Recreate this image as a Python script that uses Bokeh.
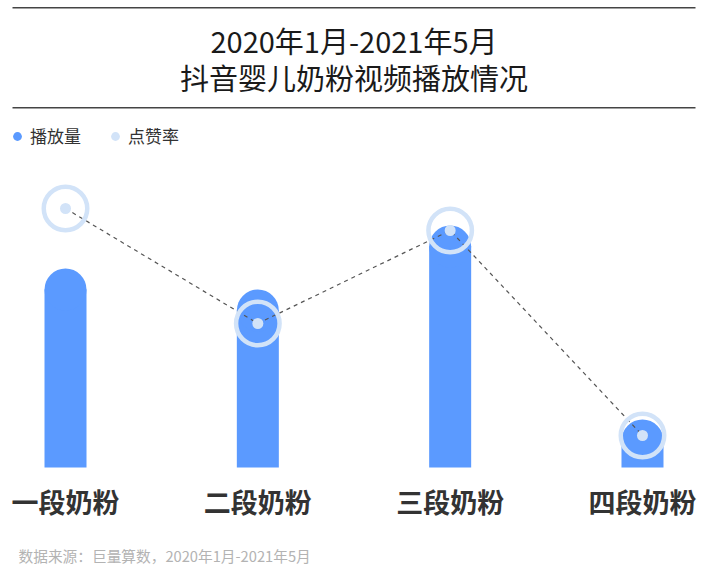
from bokeh.plotting import figure
from bokeh.models import Range1d, Label, BoxAnnotation, Legend, LegendItem, ColumnDataSource
from bokeh.embed import file_html
from bokeh.resources import INLINE
from bokeh.core.properties import value

categories = ["一段奶粉", "二段奶粉", "三段奶粉", "四段奶粉"]
plays = [19.9, 17.8, 24.2, 4.8]          # 播放量 (relative)
like_rate = [2.59, 1.44, 2.37, 0.32]     # 点赞率 (relative)
title_lines = ["2020年1月-2021年5月", "抖音婴儿奶粉视频播放情况"]
source_note = "数据来源：巨量算数，2020年1月-2021年5月"
legend_labels = ["播放量", "点赞率"]

BLUE = "#5B9AFF"
LIGHT = "#D2E3F8"
FONT = "Noto Sans CJK SC"

W, H = 707, 570
p = figure(width=W, height=H, output_backend="svg", toolbar_location=None,
           x_range=Range1d(-0.338, 3.338), y_range=Range1d(-10.3, 46.7),
           min_border=0, outline_line_color=None)
p.extra_y_ranges = {"rate": Range1d(-1.03, 4.67)}
p.xaxis.visible = False
p.yaxis.visible = False
p.xgrid.visible = False
p.ygrid.visible = False

xs = list(range(len(categories)))
cap_r = 2.1  # 21 px in data units
src = ColumnDataSource(dict(x=xs, plays=plays, body=[v - cap_r for v in plays],
                            rate=like_rate, cat=categories))

p.vbar(x="x", top="body", bottom=0, width=0.2184, source=src, fill_color=BLUE, line_color=None)
caps = p.scatter(x="x", y="body", size=42, marker="circle", source=src, fill_color=BLUE, line_color=None)

p.line(x="x", y="rate", source=src, y_range_name="rate", line_color="#555555",
       line_width=1.2, line_dash="4 4")
p.scatter(x="x", y="rate", source=src, y_range_name="rate", size=43.5, marker="circle",
          fill_color=None, line_color=LIGHT, line_width=4.5)
dots = p.scatter(x="x", y="rate", source=src, y_range_name="rate", size=11, marker="circle",
                 fill_color=LIGHT, line_color=None)

p.text(x="x", y=0, text="cat", source=src, y_offset=34, text_align="center",
       text_baseline="middle", text_font=value(FONT), text_font_size="27px",
       text_font_style="bold", text_color="#333333")

# title
p.add_layout(Label(x=W / 2, y=531, x_units="screen", y_units="screen", text=title_lines[0],
                   text_align="center", text_baseline="middle", text_font=FONT,
                   text_font_size="29px", text_color="#1a1a1a"))
p.add_layout(Label(x=W / 2, y=494, x_units="screen", y_units="screen", text=title_lines[1],
                   text_align="center", text_baseline="middle", text_font=FONT,
                   text_font_size="29px", text_color="#1a1a1a"))
# rules
for b in (562.0, 462.0):
    p.add_layout(BoxAnnotation(left=12, right=695, bottom=b, top=b + 1.5, left_units="screen",
                               right_units="screen", bottom_units="screen", top_units="screen",
                               fill_color="#444444", fill_alpha=1, line_color=None))

# source
p.add_layout(Label(x=18, y=15, x_units="screen", y_units="screen", text=source_note,
                   text_align="left", text_baseline="middle", text_font=FONT,
                   text_font_size="14.7px", text_color="#b3b3b3"))

legend = Legend(items=[LegendItem(label=legend_labels[0], renderers=[caps]),
                       LegendItem(label=legend_labels[1], renderers=[dots])],
                location=(6, 422), orientation="horizontal", border_line_color=None,
                background_fill_alpha=0, padding=0, margin=0, spacing=23,
                glyph_width=22, glyph_height=22, label_standoff=2,
                label_text_font=FONT, label_text_font_size="17px", label_text_color="#333333",
                label_height=22)
p.add_layout(legend)

open("out.html", "w").write(file_html(p, INLINE))
